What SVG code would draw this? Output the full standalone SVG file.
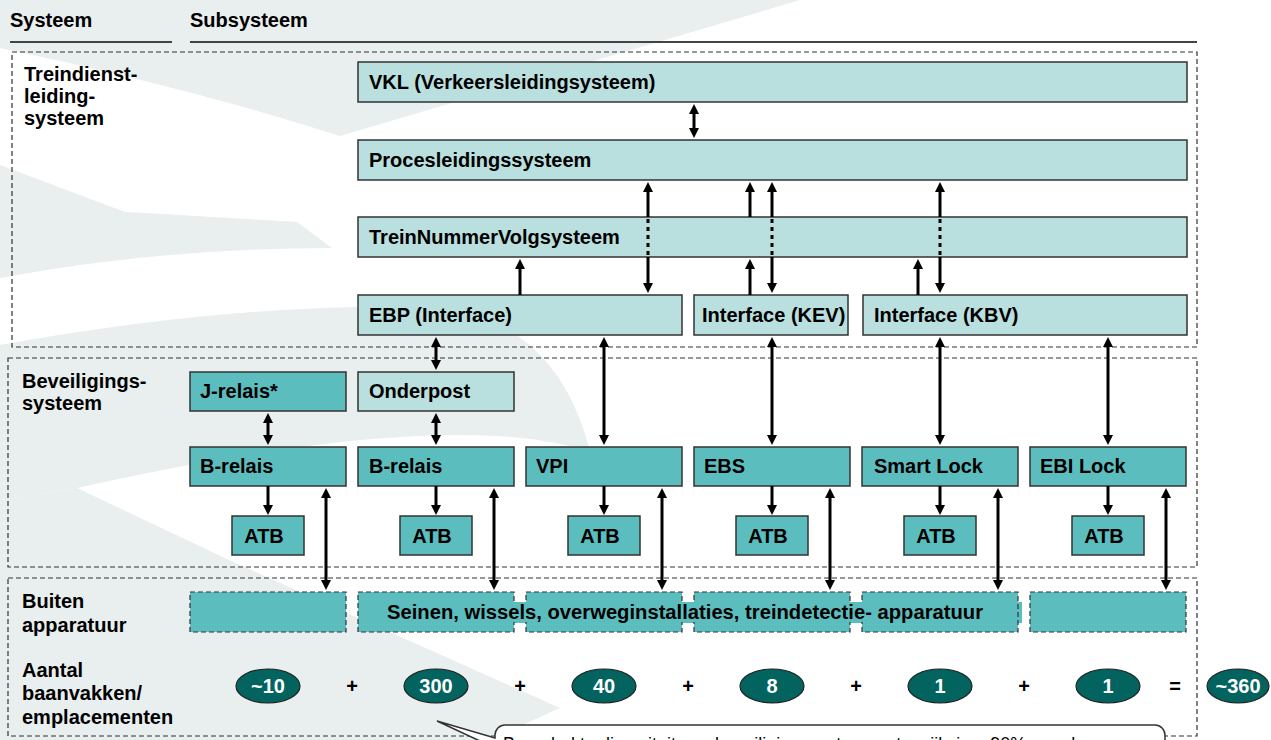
<svg xmlns="http://www.w3.org/2000/svg" width="1271" height="740" viewBox="0 0 1271 740">
<defs>
<style>
.t{font-family:"Liberation Sans",Arial,sans-serif;font-weight:bold;font-size:20px;fill:#000}
.w{font-family:"Liberation Sans",Arial,sans-serif;font-weight:bold;font-size:20px;fill:#fff}
.lt{fill:#b9dfde;stroke:#333;stroke-width:1.5}
.dk{fill:#5cbdbf;stroke:#333;stroke-width:1.5}
.dsh{fill:none;stroke:#333;stroke-width:1.2;stroke-dasharray:5 3}
.bd{fill:#5cbdbf;stroke:#333;stroke-width:1.2;stroke-dasharray:5 3}
.el{fill:#03635f;stroke:#222;stroke-width:1.2}
.wm{fill:#e9eeee}
.a1{stroke:#000;stroke-width:3;fill:none;marker-end:url(#ah)}
.a2{stroke:#000;stroke-width:3;fill:none;marker-start:url(#ah);marker-end:url(#ah)}
.dot{stroke:#000;stroke-width:3;fill:none;stroke-dasharray:4 4}
</style>
<marker id="ah" viewBox="0 0 10 10" refX="1" refY="5" markerWidth="10" markerHeight="11" markerUnits="userSpaceOnUse" orient="auto-start-reverse">
<path d="M0,0 L10,5 L0,10 Z" fill="#000"/>
</marker>
</defs>

<g id="watermark">
<path class="wm" d="M0,0 H800 L340,136 Q180,85 0,48 Z"/>
<path class="wm" d="M0,165 L125,212 Q230,218 297,222 L332,248 Q160,248 0,278 Z"/>
<path class="wm" d="M0,345 Q250,300 450,308 Q560,330 590,452 Q450,405 77,488 L0,500 Z"/>
<path class="wm" d="M77,488 L229,560 L560,708 L490,740 L0,740 L0,500 Z"/>
</g>

<g id="header">
<text class="t" x="10" y="27">Systeem</text>
<text class="t" x="190" y="27">Subsysteem</text>
<line x1="10" y1="42" x2="172" y2="42" stroke="#444" stroke-width="2"/>
<line x1="190" y1="42" x2="1197" y2="42" stroke="#444" stroke-width="2"/>
</g>

<g id="groups">
<rect class="dsh" x="12" y="52" width="1185" height="295"/>
<rect class="dsh" x="8" y="358" width="1189" height="209"/>
<rect class="dsh" x="8" y="578" width="1189" height="158"/>
<text class="t" x="24" y="81">Treindienst-</text>
<text class="t" x="24" y="103">leiding-</text>
<text class="t" x="24" y="125">systeem</text>
<text class="t" x="22" y="388">Beveiligings-</text>
<text class="t" x="22" y="410">systeem</text>
<text class="t" x="22" y="608">Buiten</text>
<text class="t" x="22" y="632">apparatuur</text>
<text class="t" x="22" y="677">Aantal</text>
<text class="t" x="22" y="700">baanvakken/</text>
<text class="t" x="22" y="724">emplacementen</text>
</g>

<g id="vkl"><rect class="lt" x="358" y="62" width="829" height="40"/><text class="t" x="369" y="89">VKL (Verkeersleidingsysteem)</text></g>
<g id="proces"><rect class="lt" x="358" y="140" width="829" height="40"/><text class="t" x="369" y="167">Procesleidingssysteem</text></g>
<g id="tnv"><rect class="lt" x="358" y="217" width="829" height="40"/><text class="t" x="369" y="244">TreinNummerVolgsysteem</text></g>
<g id="ebp"><rect class="lt" x="358" y="295" width="324" height="40"/><text class="t" x="369" y="322">EBP (Interface)</text></g>
<g id="kev"><rect class="lt" x="694" y="295" width="154" height="40"/><text class="t" x="702" y="322">Interface (KEV)</text></g>
<g id="kbv"><rect class="lt" x="863" y="295" width="324" height="40"/><text class="t" x="874" y="322">Interface (KBV)</text></g>

<g id="jrelais"><rect class="dk" x="190" y="372" width="156" height="39"/><text class="t" x="200" y="398">J-relais*</text></g>
<g id="onderpost"><rect class="lt" x="358" y="372" width="156" height="39"/><text class="t" x="369" y="398">Onderpost</text></g>

<g id="brelais1"><rect class="dk" x="190" y="447" width="156" height="39"/><text class="t" x="200" y="473">B-relais</text></g>
<g id="brelais2"><rect class="dk" x="358" y="447" width="156" height="39"/><text class="t" x="369" y="473">B-relais</text></g>
<g id="vpi"><rect class="dk" x="526" y="447" width="156" height="39"/><text class="t" x="536" y="473">VPI</text></g>
<g id="ebs"><rect class="dk" x="694" y="447" width="156" height="39"/><text class="t" x="704" y="473">EBS</text></g>
<g id="smartlock"><rect class="dk" x="862" y="447" width="156" height="39"/><text class="t" x="874" y="473">Smart Lock</text></g>
<g id="ebilock"><rect class="dk" x="1030" y="447" width="156" height="39"/><text class="t" x="1040" y="473">EBI Lock</text></g>

<g id="atb1"><rect class="dk" x="232" y="516" width="72" height="39"/><text class="t" x="264" y="543" text-anchor="middle">ATB</text></g>
<g id="atb2"><rect class="dk" x="400" y="516" width="72" height="39"/><text class="t" x="432" y="543" text-anchor="middle">ATB</text></g>
<g id="atb3"><rect class="dk" x="568" y="516" width="72" height="39"/><text class="t" x="600" y="543" text-anchor="middle">ATB</text></g>
<g id="atb4"><rect class="dk" x="736" y="516" width="72" height="39"/><text class="t" x="768" y="543" text-anchor="middle">ATB</text></g>
<g id="atb5"><rect class="dk" x="904" y="516" width="72" height="39"/><text class="t" x="936" y="543" text-anchor="middle">ATB</text></g>
<g id="atb6"><rect class="dk" x="1072" y="516" width="72" height="39"/><text class="t" x="1104" y="543" text-anchor="middle">ATB</text></g>

<g id="buiten">
<rect x="510" y="602" width="512" height="21" fill="#5cbdbf"/>
<rect class="bd" x="190" y="592" width="156" height="40"/>
<rect class="bd" x="358" y="592" width="156" height="40"/>
<rect class="bd" x="526" y="592" width="156" height="40"/>
<rect class="bd" x="694" y="592" width="156" height="40"/>
<rect class="bd" x="862" y="592" width="156" height="40"/>
<rect class="bd" x="1030" y="592" width="156" height="40"/>
<rect x="512" y="603" width="16" height="19" fill="#5cbdbf"/>
<rect x="680" y="603" width="16" height="19" fill="#5cbdbf"/>
<rect x="848" y="603" width="16" height="19" fill="#5cbdbf"/>
<text class="t" x="387" y="619" textLength="596" lengthAdjust="spacingAndGlyphs">Seinen, wissels, overweginstallaties, treindetectie- apparatuur</text>
</g>

<g id="counts">
<ellipse class="el" cx="268" cy="686" rx="32" ry="17"/><text class="w" x="268" y="693" text-anchor="middle">~10</text>
<ellipse class="el" cx="436" cy="686" rx="32" ry="17"/><text class="w" x="436" y="693" text-anchor="middle">300</text>
<ellipse class="el" cx="604" cy="686" rx="32" ry="17"/><text class="w" x="604" y="693" text-anchor="middle">40</text>
<ellipse class="el" cx="772" cy="686" rx="32" ry="17"/><text class="w" x="772" y="693" text-anchor="middle">8</text>
<ellipse class="el" cx="940" cy="686" rx="32" ry="17"/><text class="w" x="940" y="693" text-anchor="middle">1</text>
<ellipse class="el" cx="1108" cy="686" rx="32" ry="17"/><text class="w" x="1108" y="693" text-anchor="middle">1</text>
<ellipse class="el" cx="1238" cy="686" rx="31" ry="17"/><text class="w" x="1238" y="693" text-anchor="middle">~360</text>
<text class="t" x="352" y="693" text-anchor="middle">+</text>
<text class="t" x="520" y="693" text-anchor="middle">+</text>
<text class="t" x="688" y="693" text-anchor="middle">+</text>
<text class="t" x="856" y="693" text-anchor="middle">+</text>
<text class="t" x="1024" y="693" text-anchor="middle">+</text>
<text class="t" x="1175" y="693" text-anchor="middle">=</text>
</g>

<g id="connectors">
<line class="a2" x1="694" y1="113" x2="694" y2="129"/>
<line class="a1" x1="648" y1="217" x2="648" y2="191"/>
<line class="dot" x1="648" y1="219" x2="648" y2="257"/>
<line class="a1" x1="648" y1="257" x2="648" y2="284"/>
<line class="a1" x1="520" y1="295" x2="520" y2="268"/>
<line class="a1" x1="750" y1="217" x2="750" y2="191"/>
<line class="a1" x1="750" y1="295" x2="750" y2="268"/>
<line class="a1" x1="772" y1="217" x2="772" y2="191"/>
<line class="dot" x1="772" y1="219" x2="772" y2="257"/>
<line class="a1" x1="772" y1="257" x2="772" y2="284"/>
<line class="a1" x1="918" y1="295" x2="918" y2="268"/>
<line class="a1" x1="940" y1="217" x2="940" y2="191"/>
<line class="dot" x1="940" y1="219" x2="940" y2="257"/>
<line class="a1" x1="940" y1="257" x2="940" y2="284"/>

<line class="a2" x1="436" y1="346" x2="436" y2="361"/>
<line class="a2" x1="604" y1="346" x2="604" y2="436"/>
<line class="a2" x1="772" y1="346" x2="772" y2="436"/>
<line class="a2" x1="940" y1="346" x2="940" y2="436"/>
<line class="a2" x1="1108" y1="346" x2="1108" y2="436"/>
<line class="a2" x1="268" y1="422" x2="268" y2="436"/>
<line class="a2" x1="436" y1="422" x2="436" y2="436"/>

<line class="a1" x1="268" y1="486" x2="268" y2="506"/>
<line class="a1" x1="436" y1="486" x2="436" y2="506"/>
<line class="a1" x1="604" y1="486" x2="604" y2="506"/>
<line class="a1" x1="772" y1="486" x2="772" y2="506"/>
<line class="a1" x1="940" y1="486" x2="940" y2="506"/>
<line class="a1" x1="1108" y1="486" x2="1108" y2="506"/>

<line class="a2" x1="326" y1="497" x2="326" y2="581"/>
<line class="a2" x1="494" y1="497" x2="494" y2="581"/>
<line class="a2" x1="662" y1="497" x2="662" y2="581"/>
<line class="a2" x1="830" y1="497" x2="830" y2="581"/>
<line class="a2" x1="998" y1="497" x2="998" y2="581"/>
<line class="a2" x1="1166" y1="497" x2="1166" y2="581"/>
</g>

<g id="callout">
<path d="M505,725 H1155 A10,10 0 0 1 1165,735 V760 H495 V748 L437,721 L495,738 V735 A10,10 0 0 1 505,725 Z" fill="#fff" stroke="#333" stroke-width="1.5"/>
<text x="503" y="750" font-family="Liberation Sans,Arial,sans-serif" font-size="18" fill="#000">Benadrukte diversiteit van beveiligingssystemen, terwijl circa 90% van de</text>
</g>
</svg>
